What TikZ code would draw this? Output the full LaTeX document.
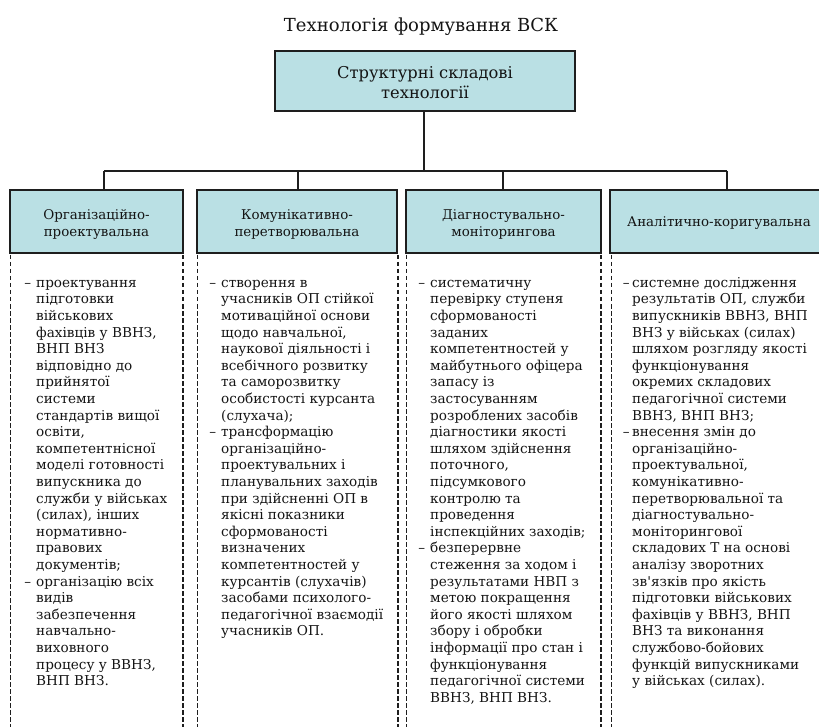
\documentclass[tikz,border=0pt]{standalone}
\usepackage{fontspec}
\setmainfont{DejaVu Serif}[Ligatures=TeXOff]
\definecolor{boxfill}{RGB}{186,224,228}
\definecolor{boxline}{RGB}{30,30,30}
\definecolor{txt}{RGB}{20,20,20}
\newcommand{\dd}{\llap{–\hspace{5pt}}}
\newcommand{\ddn}{\llap{–\hspace{2.5pt}}}
\tikzset{
  hbox/.style={draw=boxline, line width=1.5pt, fill=boxfill, inner sep=0pt},
  htext/.style={align=center, inner sep=0pt, text=txt, font=\fontsize{13.4}{17}\selectfont},
  bodytext/.style={anchor=north west, align=left, inner sep=0pt, text=txt,
    font=\fontsize{13.6}{16.6}\selectfont},
  colL/.style={draw=boxline, line width=1pt, dash pattern=on 4.5pt off 2.5pt},
  colR/.style={draw=boxline, line width=1.8pt, dash pattern=on 4.5pt off 2.5pt},
  conn/.style={draw=boxline, line width=1.5pt}
}
\begin{document}
\begin{tikzpicture}[x=1pt,y=-1pt]
\useasboundingbox (0,0) rectangle (819,727);
\clip (0,0) rectangle (819,727);

\node[text=txt, font=\fontsize{18}{20}\selectfont, inner sep=0pt] (title) at (421,26.5) {Технологія формування ВСК};

\node[hbox, minimum width=300pt, minimum height=60pt] (top) at (425,81) {};
\node[htext, font=\fontsize{16.3}{20}\selectfont] (topt) at ([yshift=-2pt]top.center) {Структурні складові\\технології};

\node[hbox, minimum width=173pt, minimum height=63pt] (h1) at (96.5,221.5) {};
\node[hbox, minimum width=200pt, minimum height=63pt] (h2) at (297,221.5) {};
\node[hbox, minimum width=195pt, minimum height=63pt] (h3) at (503.5,221.5) {};
\node[hbox, minimum width=218pt, minimum height=63pt] (h4) at (719,221.5) {};
\node[htext] (h1t) at ([yshift=-2.5pt]h1.center) {Організаційно-\\проектувальна};
\node[htext] (h2t) at ([yshift=-2.5pt]h2.center) {Комунікативно-\\перетворювальна};
\node[htext] (h3t) at ([yshift=-2.5pt]h3.center) {Діагностувально-\\моніторингова};
\node[htext] (h4t) at ([yshift=-1.5pt]h4.center) {Аналітично-коригувальна};

\coordinate (jc) at (424,171);
\coordinate (j1) at (104,171);
\coordinate (j2) at (298,171);
\coordinate (j3) at (503,171);
\coordinate (j4) at (727,171);

\draw[conn] (top.south -| jc) -- (jc);
\draw[conn] (j1) -- (j4);
\draw[conn] (j1) -- (j1 |- h1.north);
\draw[conn, line width=1.1pt] (j2) -- (j2 |- h2.north);
\draw[conn, line width=1.1pt] (j3) -- (j3 |- h3.north);
\draw[conn] (j4) -- (j4 |- h4.north);

% dashed column frames
\coordinate (c1l) at (10,255);  \coordinate (c1r) at (183,255);
\coordinate (c2l) at (197,255); \coordinate (c2r) at (398,255);
\coordinate (c3l) at (406,255); \coordinate (c3r) at (601,255);
\coordinate (c4l) at (611,255);
\coordinate (bot) at (0,730);
\draw[colL] (c1l) -- (c1l |- bot);
\draw[colR] (c1r) -- (c1r |- bot);
\draw[colL] (c2l) -- (c2l |- bot);
\draw[colR] (c2r) -- (c2r |- bot);
\draw[colL] (c3l) -- (c3l |- bot);
\draw[colR] (c3r) -- (c3r |- bot);
\draw[colL] (c4l) -- (c4l |- bot);

\node[bodytext] (t1) at (36,275.4) {\strut\dd проектування\\
підготовки\\
військових\\
фахівців у ВВНЗ,\\
ВНП ВНЗ\\
відповідно до\\
прийнятої\\
системи\\
стандартів вищої\\
освіти,\\
компетентнісної\\
моделі готовності\\
випускника до\\
служби у військах\\
(силах), інших\\
нормативно-\\
правових\\
документів;\\
\dd організацію всіх\\
видів\\
забезпечення\\
навчально-\\
виховного\\
процесу у ВВНЗ,\\
ВНП ВНЗ.};

\node[bodytext] (t2) at (221,275.4) {\strut\dd створення в\\
учасників ОП стійкої\\
мотиваційної основи\\
щодо навчальної,\\
наукової діяльності і\\
всебічного розвитку\\
та саморозвитку\\
особистості курсанта\\
(слухача);\\
\dd трансформацію\\
організаційно-\\
проектувальних і\\
планувальних заходів\\
при здійсненні ОП в\\
якісні показники\\
сформованості\\
визначених\\
компетентностей у\\
курсантів (слухачів)\\
засобами психолого-\\
педагогічної взаємодії\\
учасників ОП.};

\node[bodytext] (t3) at (430,275.4) {\strut\dd систематичну\\
перевірку ступеня\\
сформованості\\
заданих\\
компетентностей у\\
майбутнього офіцера\\
запасу із\\
застосуванням\\
розроблених засобів\\
діагностики якості\\
шляхом здійснення\\
поточного,\\
підсумкового\\
контролю та\\
проведення\\
інспекційних заходів;\\
\dd безперервне\\
стеження за ходом і\\
результатами НВП з\\
метою покращення\\
його якості шляхом\\
збору і обробки\\
інформації про стан і\\
функціонування\\
педагогічної системи\\
ВВНЗ, ВНП ВНЗ.};

\node[bodytext] (t4) at (632,275.4) {\strut\ddn системне дослідження\\
результатів ОП, служби\\
випускників ВВНЗ, ВНП\\
ВНЗ у військах (силах)\\
шляхом розгляду якості\\
функціонування\\
окремих складових\\
педагогічної системи\\
ВВНЗ, ВНП ВНЗ;\\
\ddn внесення змін до\\
організаційно-\\
проектувальної,\\
комунікативно-\\
перетворювальної та\\
діагностувально-\\
моніторингової\\
складових Т на основі\\
аналізу зворотних\\
зв'язків про якість\\
підготовки військових\\
фахівців у ВВНЗ, ВНП\\
ВНЗ та виконання\\
службово-бойових\\
функцій випускниками\\
у військах (силах).};
\end{tikzpicture}
\end{document}
